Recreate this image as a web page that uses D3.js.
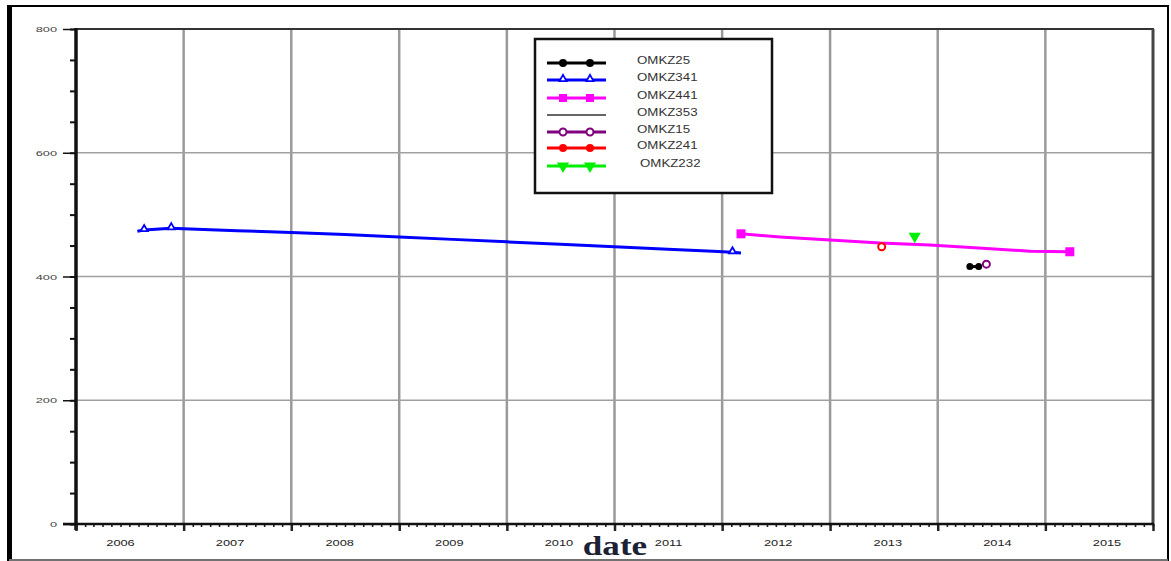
<!DOCTYPE html>
<html>
<head>
<meta charset="utf-8">
<script src="https://cdn.jsdelivr.net/npm/d3@7"></script>
<style>
  html, body { margin: 0; padding: 0; background: #fff; }
  svg { display: block; font-family: "Liberation Sans", Arial, sans-serif; }
</style>
</head>
<body>
<svg id="chart" width="1171" height="561"></svg>
<script>
// ---- data ----
const seriesNames = ["OMKZ25", "OMKZ341", "OMKZ441", "OMKZ353", "OMKZ15", "OMKZ241", "OMKZ232"];
const seriesColors = ["#000000", "#0000ff", "#ff00ff", "#666666", "#800080", "#ff0000", "#00ee00"];
const seriesMarkers = ["dot", "triangle", "square", "none", "ring", "ring", "down"];

const yTicks = [0, 200, 400, 600, 800];
const yearLabels = ["2006", "2007", "2008", "2009", "2010", "2011", "2012", "2013", "2014", "2015"];

// OMKZ341 water level readings
const omkz341Dates = ["2006-07-28", "2006-08-20", "2006-11-20", "2007-01-01", "2007-07-01", "2008-01-01",
  "2008-07-01", "2009-01-01", "2009-07-01", "2010-01-01", "2010-07-01", "2011-01-01", "2011-07-01",
  "2011-12-01", "2012-02-05", "2012-03-05"];
const omkz341Values = [473, 475, 478, 477, 474, 471, 468, 464, 460, 456, 452, 448, 444, 441, 439, 438];
const omkz341Marked = ["2006-08-20", "2006-11-20", "2012-02-05"];

// OMKZ441
const omkz441Dates = ["2012-03-05", "2012-07-15", "2013-01-01", "2013-06-20", "2013-12-05", "2014-05-20",
  "2014-11-10", "2015-03-25"];
const omkz441Values = [469, 464, 459, 454, 451, 446, 441, 440];
const omkz441Marked = ["2012-03-05", "2015-03-25"];

// single-visit wells
const omkz241Dates = ["2013-06-25"];
const omkz241Values = [448];
const omkz232Dates = ["2013-10-15"];
const omkz232Values = [465];
const omkz25Dates = ["2014-04-20", "2014-05-20"];
const omkz25Values = [416, 416];
const omkz15Dates = ["2014-06-15"];
const omkz15Values = [420];

// ---- layout ----
const svg = d3.select("#chart");
const plot = { left: 76, right: 1153, top: 29, bottom: 524 };
const stretch = 1.33;

const parse = d3.timeParse("%Y-%m-%d");
const x = d3.scaleTime()
  .domain([new Date(2006, 0, 1), new Date(2016, 0, 1)])
  .range([plot.left, plot.right]);
const y = d3.scaleLinear().domain([0, 800]).range([plot.bottom, plot.top]);
// year captions sit under each year band
const yearLabelX = d3.scaleLinear().domain([2006, 2015]).range([120.5, 1107]);

function stretchedText(g, tx, ty, str, opts) {
  const t = g.append("text")
    .attr("transform", `translate(${tx},${ty}) scale(${opts.sx || stretch},1)`)
    .attr("text-anchor", opts.anchor || "start")
    .attr("font-size", opts.size)
    .attr("fill", opts.fill || "#333")
    .text(str);
  if (opts.family) t.style("font-family", opts.family);
  if (opts.weight) t.style("font-weight", opts.weight);
  return t;
}

// outer frame
svg.append("rect").attr("x", 9).attr("y", 6).attr("width", 1159).attr("height", 554)
  .attr("fill", "#fff").attr("stroke", "#000").attr("stroke-width", 2);
svg.append("line").attr("x1", 9.5).attr("x2", 9.5).attr("y1", 5).attr("y2", 561)
  .attr("stroke", "#000").attr("stroke-width", 5);
svg.append("line").attr("x1", 9).attr("x2", 1168).attr("y1", 560).attr("y2", 560)
  .attr("stroke", "#999").attr("stroke-width", 1.5);

// grid
const grid = svg.append("g");
grid.selectAll(".vg").data(d3.timeYear.range(new Date(2007, 0, 1), new Date(2016, 0, 1)))
  .enter().append("line")
  .attr("x1", d => x(d)).attr("x2", d => x(d))
  .attr("y1", plot.top).attr("y2", plot.bottom)
  .attr("stroke", "#9a9a9a").attr("stroke-width", 2.5);
grid.selectAll(".hg").data([200, 400, 600])
  .enter().append("line")
  .attr("x1", plot.left).attr("x2", plot.right)
  .attr("y1", d => y(d)).attr("y2", d => y(d))
  .attr("stroke", "#a0a0a0").attr("stroke-width", 1.5);

// plot frame (top and right)
svg.append("line").attr("x1", plot.left).attr("x2", plot.right + 1).attr("y1", plot.top).attr("y2", plot.top)
  .attr("stroke", "#333").attr("stroke-width", 2);
svg.append("line").attr("x1", plot.right).attr("x2", plot.right).attr("y1", plot.top).attr("y2", plot.bottom)
  .attr("stroke", "#444").attr("stroke-width", 3);

// y axis: major + minor ticks
const yAxisMinor = d3.axisLeft(y).tickValues(d3.range(0, 801, 50)).tickSize(6).tickFormat("");
const yAxisMajor = d3.axisLeft(y).tickValues(yTicks).tickSize(13).tickFormat("");
const gyMinor = svg.append("g").attr("transform", `translate(${plot.left},0)`).call(yAxisMinor);
const gyMajor = svg.append("g").attr("transform", `translate(${plot.left},0)`).call(yAxisMajor);
[gyMinor, gyMajor].forEach(g => {
  g.select(".domain").remove();
  g.selectAll(".tick line").attr("stroke", "#111").attr("stroke-width", 2);
});
gyMajor.selectAll(".tick line").attr("stroke-width", 1.5);
yTicks.forEach(v => {
  stretchedText(svg, 57, y(v) + 3, String(v), { size: 8, anchor: "end", fill: "#444", sx: 1.6 });
});
svg.append("line").attr("x1", plot.left).attr("x2", plot.left).attr("y1", plot.top - 1).attr("y2", plot.bottom + 6)
  .attr("stroke", "#111").attr("stroke-width", 3.5);

// x axis: yearly major ticks, monthly minor ticks
const xAxisMinor = d3.axisBottom(x).ticks(d3.timeMonth.every(1)).tickSize(3).tickFormat("");
const xAxisMajor = d3.axisBottom(x).ticks(d3.timeYear.every(1)).tickSize(7).tickFormat("");
const gxMinor = svg.append("g").attr("transform", `translate(0,${plot.bottom})`).call(xAxisMinor);
const gxMajor = svg.append("g").attr("transform", `translate(0,${plot.bottom})`).call(xAxisMajor);
[gxMinor, gxMajor].forEach(g => {
  g.select(".domain").remove();
  g.selectAll(".tick line").attr("stroke", "#222").attr("stroke-width", 1.6);
});
gxMajor.selectAll(".tick line").attr("stroke-width", 2.5);
svg.append("line").attr("x1", plot.left - 13).attr("x2", plot.right + 1).attr("y1", plot.bottom).attr("y2", plot.bottom)
  .attr("stroke", "#111").attr("stroke-width", 2.5);

yearLabels.forEach(lbl => {
  stretchedText(svg, yearLabelX(+lbl), 546, lbl, { size: 9.5, anchor: "middle", fill: "#222", sx: 1.35 });
});

stretchedText(svg, 615, 555, "date", {
  size: 27, anchor: "middle", family: "'Liberation Serif', 'DejaVu Serif', serif",
  weight: "bold", fill: "#1c2233", sx: 1.3
});

// ---- series ----
function drawMarker(g, type, cx, cy, color, size) {
  const s = size || 4;
  if (type === "dot") {
    g.append("circle").attr("cx", cx).attr("cy", cy).attr("r", s).attr("fill", color);
  } else if (type === "ring") {
    g.append("circle").attr("cx", cx).attr("cy", cy).attr("r", s - 0.5)
      .attr("fill", "#fff").attr("stroke", color).attr("stroke-width", 2);
  } else if (type === "square") {
    g.append("rect").attr("x", cx - s).attr("y", cy - s).attr("width", 2 * s).attr("height", 2 * s).attr("fill", color);
  } else if (type === "triangle") {
    g.append("path").attr("d", d3.symbol(d3.symbolTriangle, 22)())
      .attr("transform", `translate(${cx},${cy - 1})`)
      .attr("fill", "#fff").attr("stroke", color).attr("stroke-width", 1.8);
  } else if (type === "down") {
    g.append("path").attr("d", d3.symbol(d3.symbolTriangle, s * s * 4)())
      .attr("transform", `translate(${cx},${cy}) rotate(180)`)
      .attr("fill", color);
  }
}

const lineGen = d3.line().x(d => x(d.date)).y(d => y(d.value));

function series(dates, values) {
  return dates.map((d, i) => ({ date: parse(d), value: values[i] }));
}

const dataG = svg.append("g");
function drawSeries(idx, dates, values, marked, markerSize) {
  const pts = series(dates, values);
  const color = seriesColors[idx];
  if (pts.length > 1) {
    dataG.append("path").datum(pts).attr("d", lineGen)
      .attr("fill", "none").attr("stroke", color).attr("stroke-width", 3);
  }
  const markSet = new Set(marked || dates);
  pts.forEach((p, i) => {
    if (markSet.has(dates[i])) drawMarker(dataG, seriesMarkers[idx], x(p.date), y(p.value), color, markerSize || 4);
  });
}

drawSeries(1, omkz341Dates, omkz341Values, omkz341Marked);
drawSeries(2, omkz441Dates, omkz441Values, omkz441Marked, 4.5);
drawSeries(5, omkz241Dates, omkz241Values);
drawSeries(6, omkz232Dates, omkz232Values);
drawSeries(0, omkz25Dates, omkz25Values, null, 3.5);
drawSeries(4, omkz15Dates, omkz15Values);

// ---- legend ----
const lg = svg.append("g");
lg.append("rect").attr("x", 535).attr("y", 39).attr("width", 237).attr("height", 154)
  .attr("fill", "#fff").attr("stroke", "#111").attr("stroke-width", 2.5);
const rowY = [63, 80, 98, 115, 132, 148, 166];
seriesNames.forEach((name, i) => {
  const yy = rowY[i];
  const color = seriesColors[i];
  lg.append("line").attr("x1", 547).attr("x2", 606).attr("y1", yy).attr("y2", yy)
    .attr("stroke", color).attr("stroke-width", seriesMarkers[i] === "none" ? 2 : 3);
  if (seriesMarkers[i] !== "none") {
    [563, 590].forEach(mx => drawMarker(lg, seriesMarkers[i] === "ring" && i === 5 ? "dot" : seriesMarkers[i], mx, yy, color, 4));
  }
  stretchedText(lg, i === 6 ? 640 : 637, yy + 1, name, { size: 10, fill: "#333" });
});
</script>
</body>
</html>
